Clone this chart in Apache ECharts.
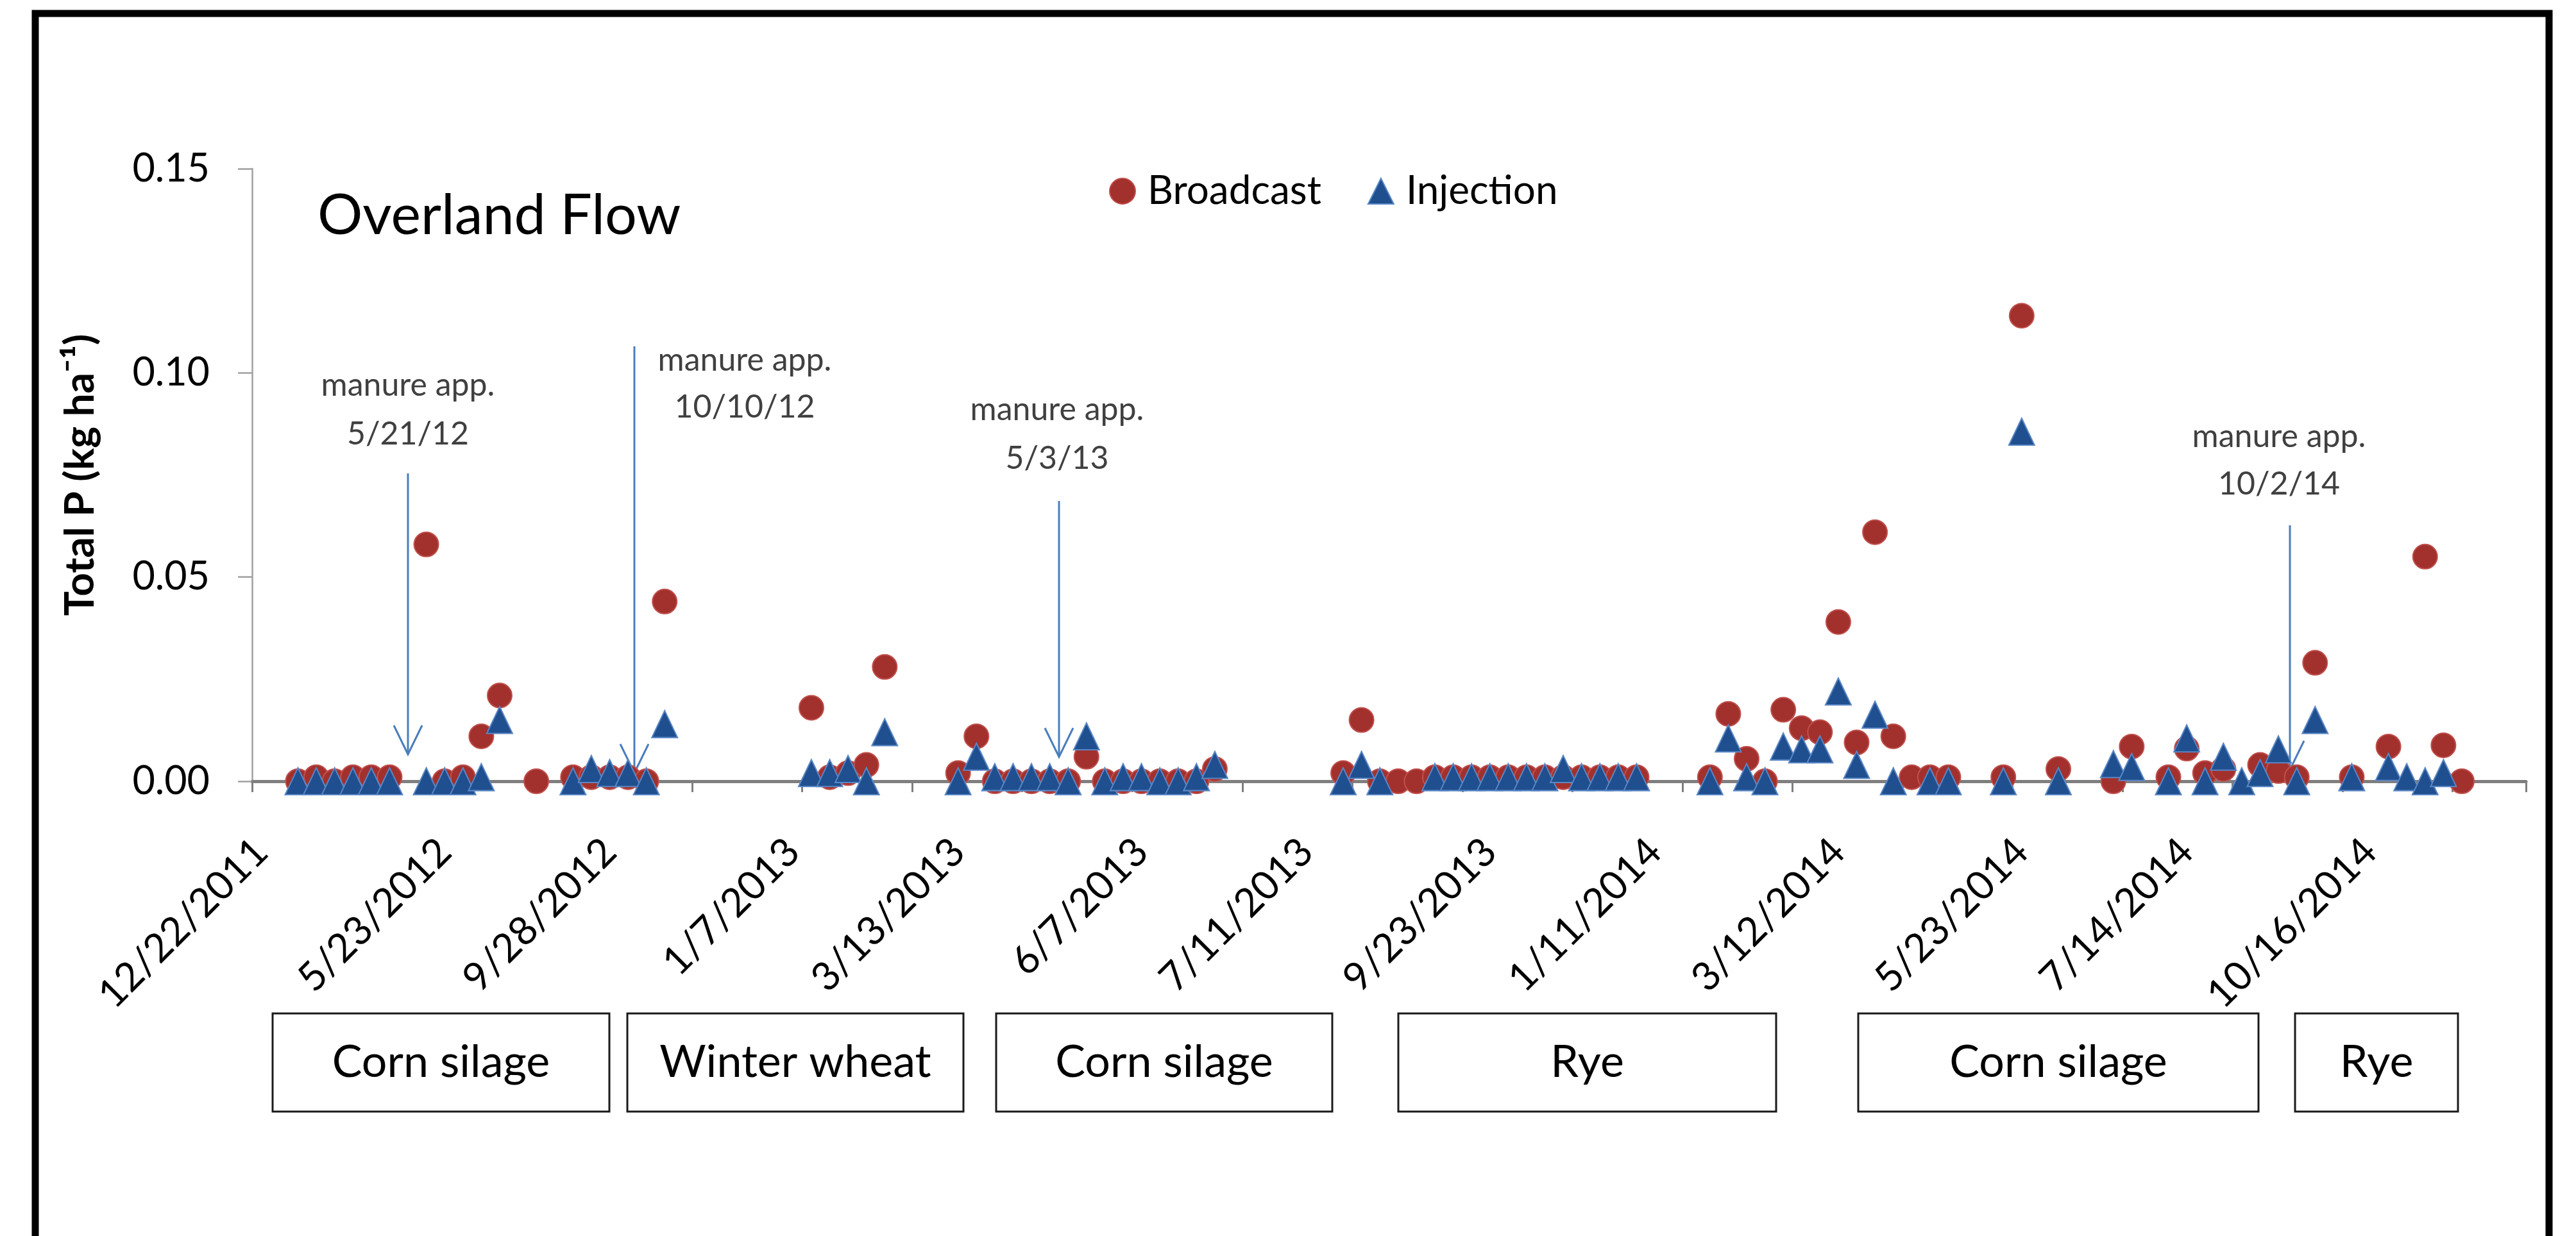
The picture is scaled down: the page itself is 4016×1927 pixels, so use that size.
<!DOCTYPE html>
<html><head><meta charset="utf-8">
<script src="https://cdn.jsdelivr.net/npm/echarts@6/dist/echarts.min.js"></script>
<style>html,body{margin:0;padding:0;background:#fff}#c{width:4016px;height:1927px}</style>
</head><body><div id="c"></div>
<script>
// ---------- data ----------
const tickLabels = ['12/22/2011','5/23/2012','9/28/2012','1/7/2013','3/13/2013','6/7/2013','7/11/2013','9/23/2013','1/11/2014','3/12/2014','5/23/2014','7/14/2014','10/16/2014'];
const tickLabelIndex = [0,10,19,29,38,48,57,67,76,86,96,105,115];
const eventCount = 124;
const broadcast = [
  null,null,0,0.001,0,0.001,0.001,0.001,null,0.058,
  0,0.001,0.011,0.021,null,0,null,0.001,0.001,0.001,
  0.001,0,0.044,null,null,null,null,null,null,null,
  0.018,0.001,0.002,0.004,0.028,null,null,null,0.002,0.011,
  0,0,0,0,0,0.006,0,0,0,0,
  0,0,0.003,null,null,null,null,null,null,0.002,
  0.015,0,0,0,0.001,0.001,0.001,0.001,0.001,0.001,
  0.001,0.001,0.001,0.001,0.001,0.001,null,null,null,0.001,
  0.0165,0.0055,0,0.0175,0.013,0.012,0.039,0.0095,0.061,0.011,
  0.001,0.001,0.001,null,null,0.001,0.114,null,0.003,null,
  null,0,0.0085,null,0.001,0.008,0.002,0.003,null,0.004,
  0.0025,0.001,0.029,null,0.001,null,0.0085,null,0.055,0.0088,
  0,null,null,null
];
const injection = [
  null,null,0,0,0,0,0,0,null,0,
  0,0,0.001,0.015,null,null,null,0,0.003,0.002,
  0.002,0,0.014,null,null,null,null,null,null,null,
  0.002,0.002,0.003,0,0.012,null,null,null,0,0.006,
  0.001,0.001,0.001,0.001,0,0.011,0,0.001,0.001,0,
  0,0.001,0.004,null,null,null,null,null,null,0,
  0.004,0,null,null,0.001,0.001,0.001,0.001,0.001,0.001,
  0.001,0.003,0.001,0.001,0.001,0.001,null,null,null,0,
  0.0105,0.001,0,0.0085,0.0078,0.0078,0.022,0.004,0.0163,0,
  null,0,0,null,null,0,0.0856,null,0,null,
  null,0.0042,0.0035,null,0,0.0105,0,0.006,0,0.002,
  0.0078,0,0.015,null,0.001,null,0.0035,0.001,0,0.002,
  null,null,null,null
];
const cropPeriods = ['Corn silage','Winter wheat','Corn silage','Rye','Corn silage','Rye'];
const manureDates = ['5/21/12','10/10/12','5/3/13','10/2/14'];

// ---------- layout (pixels) ----------
const FONT = 'Lato';
const layout = {
  frame: {x: 55, y: 21, w: 3919, h: 2000, lw: 11},
  boxY: [1580, 1733],
  boxX: [[425,950],[978,1502],[1553,2077],[2180,2769],[2897,3521],[3578,3832]],
  manure: [
    {x: 636,  tx: 636,  t1: 601, t2: 677, top: 738, tip: 1176},
    {x: 989,  tx: 1161, t1: 562, t2: 635, top: 540, tip: 1205},
    {x: 1651, tx: 1648, t1: 639, t2: 715, top: 781, tip: 1180},
    {x: 3570, tx: 3553, t1: 681, t2: 755, top: 819, tip: 1200}
  ]
};

const categories = Array.from({length: eventCount}, (_, i) => {
  const k = tickLabelIndex.indexOf(i);
  return k >= 0 ? tickLabels[k] : '';
});
const toPairs = arr => arr.map((v, i) => v == null ? null : [i, v]).filter(d => d);

const graphics = [];
graphics.push({type: 'rect', z: -10, silent: true,
  shape: {x: layout.frame.x, y: layout.frame.y, width: layout.frame.w, height: layout.frame.h},
  style: {fill: null, stroke: '#000', lineWidth: layout.frame.lw}});
graphics.push({type: 'text', style: {text: 'Overland Flow', x: 495, y: 337, fontSize: 88, fontFamily: FONT,
  fill: '#000', align: 'left', verticalAlign: 'middle'}});
cropPeriods.forEach((name, i) => {
  const [x0, x1] = layout.boxX[i];
  const [y0, y1] = layout.boxY;
  graphics.push({type: 'rect', shape: {x: x0, y: y0, width: x1 - x0, height: y1 - y0},
    style: {fill: '#fff', stroke: '#1a1a1a', lineWidth: 3}});
  graphics.push({type: 'text', style: {text: name, x: (x0 + x1) / 2, y: (y0 + y1) / 2, fontSize: 70,
    fontFamily: FONT, fill: '#000', align: 'center', verticalAlign: 'middle'}});
});
manureDates.forEach((d, i) => {
  const m = layout.manure[i];
  graphics.push({type: 'text', style: {text: 'manure app.', x: m.tx, y: m.t1, fontSize: 50, fontFamily: FONT,
    fill: '#404040', align: 'center', verticalAlign: 'middle'}});
  graphics.push({type: 'text', style: {text: d, x: m.tx, y: m.t2, fontSize: 50, fontFamily: FONT,
    fill: '#404040', align: 'center', verticalAlign: 'middle'}});
  graphics.push({type: 'polyline', z: 1, shape: {points: [[m.x, m.top], [m.x, m.tip]]},
    style: {stroke: '#4a7ebb', lineWidth: 3, fill: null}});
  graphics.push({type: 'polyline', z: 1, shape: {points: [[m.x - 22, m.tip - 45], [m.x, m.tip], [m.x + 22, m.tip - 45]]},
    style: {stroke: '#4a7ebb', lineWidth: 3, fill: null}});
});

const chart = echarts.init(document.getElementById('c'));
chart.setOption({
  backgroundColor: '#fff',
  animation: false,
  textStyle: {fontFamily: FONT},
  grid: {left: 393, right: 78, top: 263, bottom: 709, containLabel: false, outerBoundsMode: 'none'},
  legend: {
    left: 1724, top: 262, itemWidth: 40, itemHeight: 40, itemGap: 72,
    textStyle: {fontSize: 62, fontFamily: FONT, color: '#000', padding: [0, 0, 0, 14]},
    data: ['Broadcast', 'Injection']
  },
  xAxis: {
    type: 'category', data: categories, boundaryGap: true,
    axisLine: {onZero: true, lineStyle: {color: '#7f7f7f', width: 5}},
    axisTick: {show: true, interval: 5, length: 17, lineStyle: {color: '#7f7f7f', width: 3}},
    axisLabel: {interval: (i) => tickLabelIndex.includes(i), rotate: 45, margin: 100,
      fontSize: 62, fontFamily: FONT, color: '#000'},
    splitLine: {show: false}
  },
  yAxis: {
    type: 'value', min: 0, max: 0.15, interval: 0.05,
    name: 'Total P (kg ha\u207B\u00B9)', nameLocation: 'middle', nameGap: 236,
    nameTextStyle: {fontSize: 64, fontWeight: 'bold', fontFamily: FONT, color: '#000'},
    axisLine: {show: true, lineStyle: {color: '#a0a0a0', width: 2.5}},
    axisTick: {show: true, length: 22, lineStyle: {color: '#a0a0a0', width: 2.5}},
    axisLabel: {formatter: v => v.toFixed(2), fontSize: 61, fontFamily: FONT, color: '#000', margin: 66},
    splitLine: {show: false}
  },
  graphic: {elements: graphics},
  series: [
    {name: 'Broadcast', type: 'scatter', symbol: 'circle', symbolSize: 38, z: 3,
      itemStyle: {color: '#a2302c', borderColor: '#c0504d', borderWidth: 2, opacity: 1},
      data: toPairs(broadcast)},
    {name: 'Injection', type: 'scatter', symbol: 'triangle', symbolSize: [40, 42], z: 4,
      itemStyle: {color: '#1f4f8f', borderColor: '#5b87c5', borderWidth: 2, opacity: 1},
      data: toPairs(injection)}
  ]
});
</script></body></html>
